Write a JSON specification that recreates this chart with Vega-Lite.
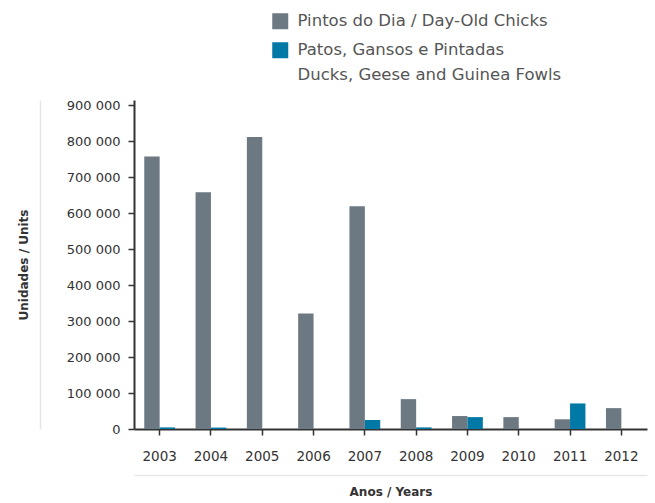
{
  "$schema": "https://vega.github.io/schema/vega-lite/v6.json",
  "width": 513,
  "height": 329,
  "autosize": {"type": "none"},
  "padding": {"left": 134, "top": 100, "right": 8, "bottom": 74},
  "background": "white",
  "config": {
    "locale": {"number": {"decimal": ",", "thousands": " ", "grouping": [3], "currency": ["", ""]}},
    "view": {"stroke": null},
    "font": "DejaVu Sans"
  },
  "data": {
    "values": [
      {"year": "2003", "series": "Pintos do Dia / Day-Old Chicks", "value": 757000},
      {"year": "2003", "series": "Patos, Gansos e Pintadas / Ducks, Geese and Guinea Fowls", "value": 4500},
      {"year": "2004", "series": "Pintos do Dia / Day-Old Chicks", "value": 658000},
      {"year": "2004", "series": "Patos, Gansos e Pintadas / Ducks, Geese and Guinea Fowls", "value": 4000},
      {"year": "2005", "series": "Pintos do Dia / Day-Old Chicks", "value": 811000},
      {"year": "2005", "series": "Patos, Gansos e Pintadas / Ducks, Geese and Guinea Fowls", "value": 0},
      {"year": "2006", "series": "Pintos do Dia / Day-Old Chicks", "value": 321000},
      {"year": "2006", "series": "Patos, Gansos e Pintadas / Ducks, Geese and Guinea Fowls", "value": 0},
      {"year": "2007", "series": "Pintos do Dia / Day-Old Chicks", "value": 619000},
      {"year": "2007", "series": "Patos, Gansos e Pintadas / Ducks, Geese and Guinea Fowls", "value": 25000},
      {"year": "2008", "series": "Pintos do Dia / Day-Old Chicks", "value": 83000},
      {"year": "2008", "series": "Patos, Gansos e Pintadas / Ducks, Geese and Guinea Fowls", "value": 4500},
      {"year": "2009", "series": "Pintos do Dia / Day-Old Chicks", "value": 36000},
      {"year": "2009", "series": "Patos, Gansos e Pintadas / Ducks, Geese and Guinea Fowls", "value": 33000},
      {"year": "2010", "series": "Pintos do Dia / Day-Old Chicks", "value": 33000},
      {"year": "2010", "series": "Patos, Gansos e Pintadas / Ducks, Geese and Guinea Fowls", "value": 0},
      {"year": "2011", "series": "Pintos do Dia / Day-Old Chicks", "value": 27000},
      {"year": "2011", "series": "Patos, Gansos e Pintadas / Ducks, Geese and Guinea Fowls", "value": 71000},
      {"year": "2012", "series": "Pintos do Dia / Day-Old Chicks", "value": 58000},
      {"year": "2012", "series": "Patos, Gansos e Pintadas / Ducks, Geese and Guinea Fowls", "value": 0}
    ]
  },
  "layer": [
    {
      "mark": {"type": "bar"},
      "encoding": {
        "x": {
          "field": "year", "type": "nominal",
          "scale": {"paddingInner": 0.4, "paddingOuter": 0.2},
          "axis": {
            "title": null, "labelAngle": 0, "domainColor": "#333333", "domainWidth": 2,
            "tickColor": "#333333", "tickWidth": 1.5, "tickSize": 6, "labelColor": "#333333",
            "labelFontSize": 13.5, "labelPadding": 14
          }
        },
        "xOffset": {
          "field": "series", "type": "nominal",
          "scale": {"domain": ["Pintos do Dia / Day-Old Chicks", "Patos, Gansos e Pintadas / Ducks, Geese and Guinea Fowls"], "paddingInner": 0, "paddingOuter": 0}
        },
        "y": {
          "field": "value", "type": "quantitative",
          "scale": {"domain": [0, 914000], "nice": false},
          "axis": {
            "title": null, "values": [0, 100000, 200000, 300000, 400000, 500000, 600000, 700000, 800000, 900000],
            "format": ",d", "grid": false, "domainColor": "#333333", "domainWidth": 2,
            "tickColor": "#333333", "tickWidth": 1.5, "tickSize": 6, "labelColor": "#333333",
            "labelFontSize": 13, "labelPadding": 8
          }
        },
        "color": {
          "field": "series", "type": "nominal",
          "scale": {"domain": ["Pintos do Dia / Day-Old Chicks", "Patos, Gansos e Pintadas / Ducks, Geese and Guinea Fowls"], "range": ["#6c7982", "#0079a6"]},
          "legend": {
            "orient": "none", "legendX": 138, "legendY": -87, "title": null,
            "symbolType": "square", "symbolSize": 256, "symbolStrokeWidth": 0,
            "labelFontSize": 16.5, "labelColor": "#555555", "labelOffset": 9, "labelLimit": 400,
            "rowPadding": 12, "labelBaseline": "middle",
            "labelExpr": "datum.label == 'Pintos do Dia / Day-Old Chicks' ? datum.label : ['Patos, Gansos e Pintadas', 'Ducks, Geese and Guinea Fowls']",
            "encode": {"labels": {"update": {"lineHeight": {"value": 25}}}}
          }
        }
      }
    },
    {
      "mark": {"type": "bar", "opacity": 0},
      "encoding": {
        "x": {
          "field": "year", "type": "nominal",
          "axis": {
            "orient": "bottom", "offset": 46, "labels": false, "ticks": false,
            "domainColor": "#e6e6e6", "domainWidth": 1.5,
            "title": "Anos / Years", "titleFontSize": 12, "titleFontWeight": "bold", "titleColor": "#333333", "titlePadding": 11
          }
        },
        "y": {
          "field": "value", "type": "quantitative",
          "axis": {
            "orient": "left", "offset": 94, "labels": false, "ticks": false, "grid": false,
            "domainColor": "#e6e6e6", "domainWidth": 1.5,
            "title": "Unidades / Units", "titleFontSize": 12, "titleFontWeight": "bold", "titleColor": "#333333", "titlePadding": 10
          }
        }
      }
    }
  ],
  "resolve": {"axis": {"x": "independent", "y": "independent"}}
}
